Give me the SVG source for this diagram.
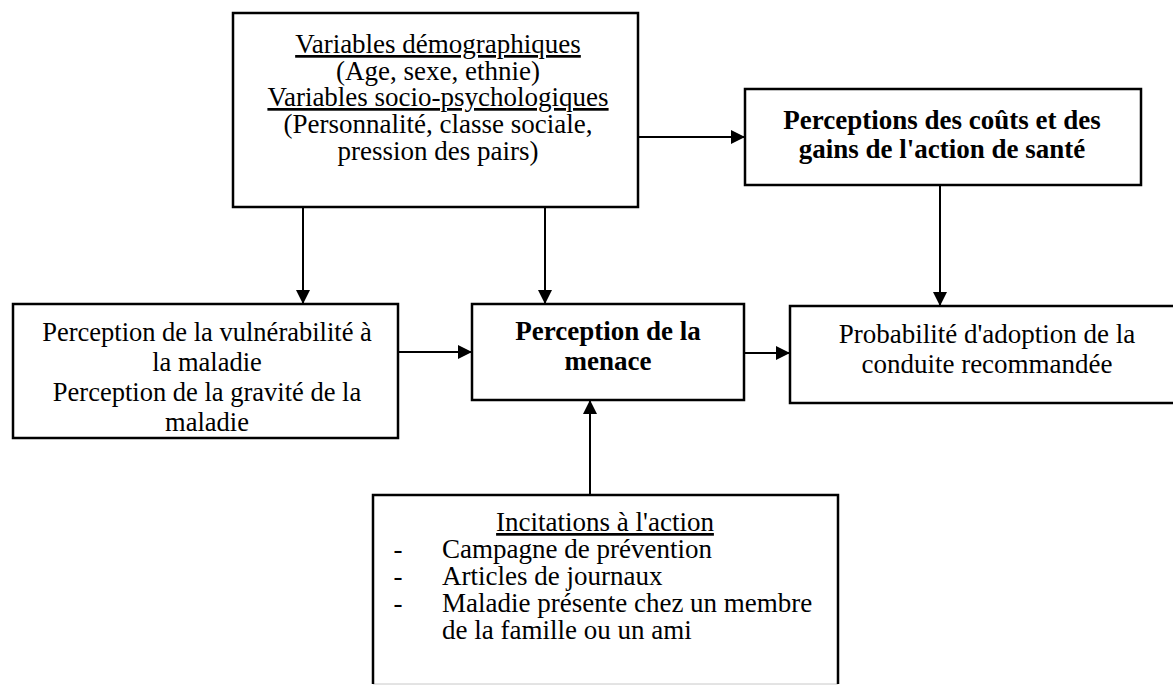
<svg xmlns="http://www.w3.org/2000/svg" width="1173" height="685" viewBox="0 0 1173 685">
<defs>
<style>
.box{fill:#fff;stroke:#000;stroke-width:2.5}
.t{font-family:"Liberation Serif","Times New Roman",serif;font-size:27px;fill:#000;text-anchor:middle}
.b{font-weight:bold}
.u{text-decoration:underline}
.l{text-anchor:start}
.c{fill:none;stroke:#000;stroke-width:2}
</style>
<marker id="ah" viewBox="0 0 14 14" refX="14" refY="7" markerWidth="14" markerHeight="14" markerUnits="userSpaceOnUse" orient="auto">
<path d="M0,0 L14,7 L0,14 z" fill="#000"/>
</marker>
</defs>
<rect width="1173" height="685" fill="#fff"/>

<g id="connectors">
<line class="c" x1="303" y1="207" x2="303" y2="304" marker-end="url(#ah)"/>
<line class="c" x1="545" y1="207" x2="545" y2="304" marker-end="url(#ah)"/>
<line class="c" x1="638" y1="137" x2="745" y2="137" marker-end="url(#ah)"/>
<line class="c" x1="398" y1="352" x2="472" y2="352" marker-end="url(#ah)"/>
<line class="c" x1="744" y1="353" x2="790" y2="353" marker-end="url(#ah)"/>
<line class="c" x1="940" y1="185" x2="940" y2="306" marker-end="url(#ah)"/>
<line class="c" x1="590" y1="495" x2="590" y2="400" marker-end="url(#ah)"/>
</g>

<g id="variables">
<rect class="box" x="233" y="13" width="405" height="194"/>
<text class="t u" x="438" y="53">Variables démographiques</text>
<text class="t" x="438" y="80">(Age, sexe, ethnie)</text>
<text class="t u" x="438" y="106">Variables socio-psychologiques</text>
<text class="t" x="438" y="133">(Personnalité, classe sociale,</text>
<text class="t" x="438" y="160">pression des pairs)</text>
</g>

<g id="couts">
<rect class="box" x="745" y="89" width="396" height="96"/>
<text class="t b" x="942" y="129">Perceptions des coûts et des</text>
<text class="t b" x="942" y="158">gains de l'action de santé</text>
</g>

<g id="vulnerabilite">
<rect class="box" x="13" y="304" width="385" height="134"/>
<text class="t" x="207" y="341" style="font-size:26.5px">Perception de la vulnérabilité à</text>
<text class="t" x="207" y="371" style="font-size:26.5px">la maladie</text>
<text class="t" x="207" y="401" style="font-size:26.5px">Perception de la gravité de la</text>
<text class="t" x="207" y="431" style="font-size:26.5px">maladie</text>
</g>

<g id="menace">
<rect class="box" x="472" y="304" width="272" height="96"/>
<text class="t b" x="608" y="340">Perception de la</text>
<text class="t b" x="608" y="370">menace</text>
</g>

<g id="probabilite">
<rect class="box" x="790" y="306" width="400" height="97"/>
<text class="t" x="987" y="343">Probabilité d'adoption de la</text>
<text class="t" x="987" y="373">conduite recommandée</text>
</g>

<g id="incitations">
<rect x="373" y="495" width="465" height="189" fill="#fff"/>
<line x1="373" y1="684" x2="838" y2="684" stroke="#c8c8c8" stroke-width="1"/>
<path d="M373,684 V495 H838 V684" fill="none" stroke="#000" stroke-width="2.5"/>
<text class="t u" x="605" y="531">Incitations à l'action</text>
<text class="t" x="398" y="558">-</text>
<text class="t" x="398" y="585">-</text>
<text class="t" x="398" y="612">-</text>
<text class="t l" x="442" y="558">Campagne de prévention</text>
<text class="t l" x="442" y="585">Articles de journaux</text>
<text class="t l" x="442" y="612">Maladie présente chez un membre</text>
<text class="t l" x="442" y="639">de la famille ou un ami</text>
</g>
</svg>
